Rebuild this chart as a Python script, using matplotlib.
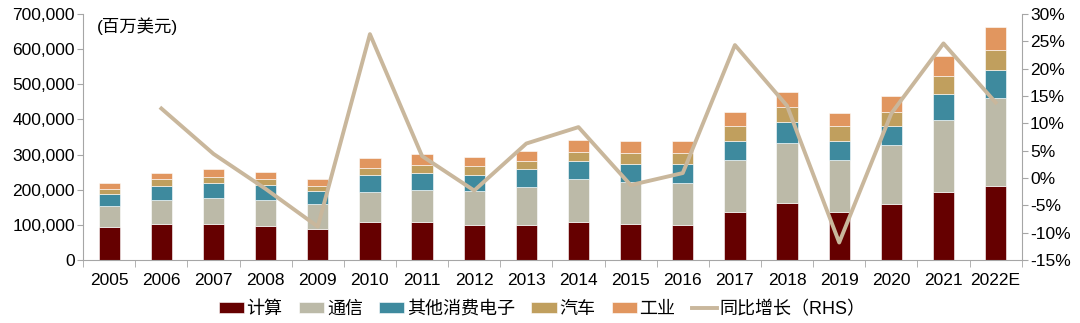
import numpy as np
import matplotlib.pyplot as plt
from matplotlib.ticker import FuncFormatter, FixedLocator

plt.rcParams['font.family'] = ['Liberation Sans', 'Noto Sans CJK SC', 'DejaVu Sans']

years = ["2005", "2006", "2007", "2008", "2009", "2010", "2011", "2012", "2013",
         "2014", "2015", "2016", "2017", "2018", "2019", "2020", "2021", "2022E"]

# 百万美元
computing = [93900, 103400, 103400, 97700, 88200, 109100, 109100, 99600, 99600,
             109100, 103400, 99600, 135600, 161200, 135600, 158400, 194400, 211500]
telecom = [59700, 67300, 73000, 73000, 71100, 84400, 91000, 97700, 109100,
           120400, 119500, 120400, 148900, 170700, 148900, 167800, 204900, 248500]
other_ce = [34200, 40800, 43600, 42700, 36100, 49300, 47500, 45500, 49300,
            52200, 50300, 53200, 55000, 60700, 55000, 55000, 72000, 81600]
auto = [15000, 18000, 17100, 17100, 16100, 19000, 21800, 25600, 23700,
        25600, 31300, 31300, 41700, 41700, 41700, 40800, 53100, 56000]
industrial = [17000, 17000, 21000, 20800, 18000, 28400, 32200, 25600, 29400,
              33200, 33200, 33200, 40800, 43600, 37900, 43600, 55000, 64400]
# 同比增长, %
growth = [np.nan, 12.7, 4.4, -2.0, -8.9, 26.3, 4.0, -2.3, 6.3,
          9.3, -1.3, 0.9, 24.3, 13.2, -11.8, 11.8, 24.6, 13.8]

series = [
    ("计算", computing, "#650000"),
    ("通信", telecom, "#BCBAA8"),
    ("其他消费电子", other_ce, "#3E8A9E"),
    ("汽车", auto, "#C09F5E"),
    ("工业", industrial, "#E1965F"),
]
line_color = "#C9B79C"
axis_color = "#A6A6A6"

fig = plt.figure(figsize=(10.8, 3.23), dpi=100)
ax = fig.add_axes([0.077, 0.195, 0.869, 0.762])
ax2 = ax.twinx()

x = np.arange(len(years))
bottom = np.zeros(len(years))
handles = []
for name, vals, color in series:
    b = ax.bar(x, vals, width=0.41, bottom=bottom, color=color,
               edgecolor="white", linewidth=0.4, label=name)
    handles.append(b)
    bottom += np.array(vals)

ln, = ax2.plot(x, growth, color=line_color, linewidth=2.8, label="同比增长（RHS）")
handles.append(ln)

ax.set_xlim(-0.5, len(years) - 0.5)
ax.set_ylim(0, 700000)
ax.set_yticks(np.arange(0, 700001, 100000))
ax.yaxis.set_major_formatter(FuncFormatter(lambda v, p: f"{int(v):,}"))
ax2.set_ylim(-15, 30)
ax2.set_yticks(np.arange(-15, 31, 5))
ax2.yaxis.set_major_formatter(FuncFormatter(lambda v, p: f"{int(v)}%"))

ax.set_xticks(x)
ax.set_xticklabels(years)
ax.xaxis.set_minor_locator(FixedLocator(np.arange(-0.5, len(years), 1)))
ax.tick_params(axis="x", which="major", length=0, pad=9, labelsize=12.5)
ax.tick_params(axis="x", which="minor", length=5, color=axis_color)
ax.tick_params(axis="y", length=4, color=axis_color, labelsize=12.5, pad=2)
ax2.tick_params(axis="y", length=4, color=axis_color, labelsize=12.5, pad=2)

for a in (ax, ax2):
    a.spines["top"].set_visible(False)
    for s in ("left", "right", "bottom"):
        a.spines[s].set_color(axis_color)
ax.spines["right"].set_visible(False)
ax2.spines["left"].set_visible(False)
ax2.spines["bottom"].set_visible(False)

ax.text(0.015, 0.985, "(百万美元)", transform=ax.transAxes, fontsize=12.5,
        va="top", ha="left")

fig.legend(handles=handles, loc="lower center", bbox_to_anchor=(0.502, -0.035),
           ncol=6, frameon=False, fontsize=13, handlelength=1.4,
           handleheight=0.6, handletextpad=0.15, columnspacing=0.9)

fig.savefig("out.png", dpi=100)
